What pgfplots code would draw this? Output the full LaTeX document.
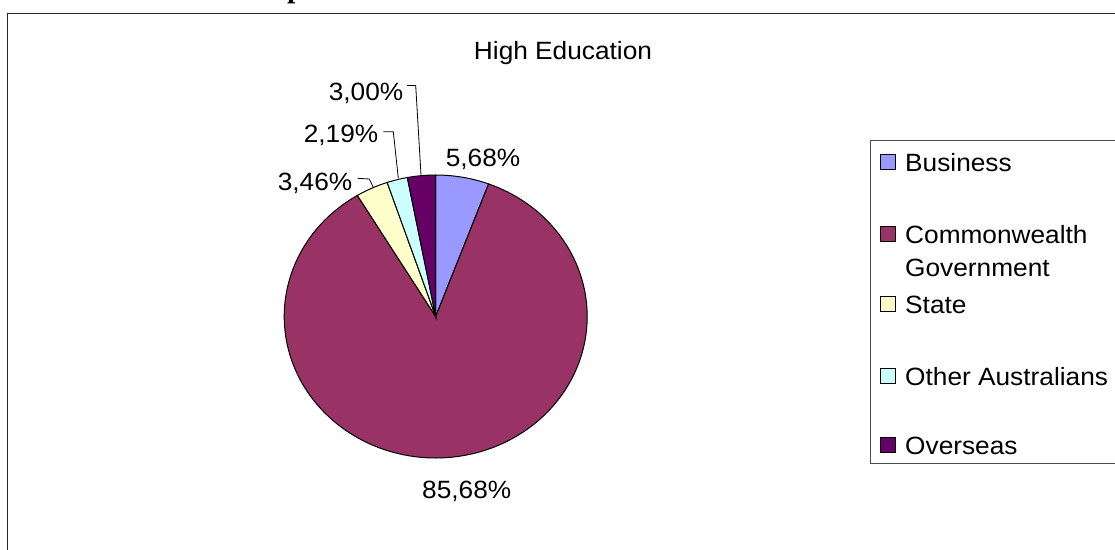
\documentclass[border=0pt]{standalone}
\usepackage{pgfplots}
\pgfplotsset{compat=1.18}
\usepackage{pgfplotstable}
\usepackage{graphicx}
\usepackage{fontspec}
\setmainfont{Liberation Sans}
\newfontfamily\headserif{Liberation Serif}

\definecolor{cBus}{HTML}{9999FF}
\definecolor{cCom}{HTML}{993366}
\definecolor{cSta}{HTML}{FFFFCC}
\definecolor{cOth}{HTML}{CCFFFF}
\definecolor{cOve}{HTML}{660066}
\newcommand\wt[1]{\scalebox{1.05}[1]{#1}}

\pgfplotstableread{
source value
Business 5.68
Commonwealth 85.68
State 3.46
Other 2.19
Overseas 3.00
}\piedata

\begin{document}
\begin{tikzpicture}
\pgfplotstablegetelem{0}{value}\of\piedata \pgfmathsetmacro\vA{\pgfplotsretval}
\pgfplotstablegetelem{1}{value}\of\piedata \pgfmathsetmacro\vB{\pgfplotsretval}
\pgfplotstablegetelem{2}{value}\of\piedata \pgfmathsetmacro\vC{\pgfplotsretval}
\pgfplotstablegetelem{3}{value}\of\piedata \pgfmathsetmacro\vD{\pgfplotsretval}
\pgfplotstablegetelem{4}{value}\of\piedata \pgfmathsetmacro\vE{\pgfplotsretval}
\pgfmathsetmacro\tot{\vA+\vB+\vC+\vD+\vE}
\pgfmathsetmacro\aA{\vA/\tot*360}
\pgfmathsetmacro\aB{(\vA+\vB)/\tot*360}
\pgfmathsetmacro\aC{(\vA+\vB+\vC)/\tot*360}
\pgfmathsetmacro\aD{(\vA+\vB+\vC+\vD)/\tot*360}
\def\cx{435.7}\def\cy{316.5}\def\rx{151.5}\def\ry{141.5}
\useasboundingbox (0,0) rectangle (1115pt,549pt);
\clip (0,0) rectangle (1115pt,549pt);
\begin{axis}[at={(0,0)}, anchor=south west, scale only axis,
  width=1115pt, height=549pt, xmin=0, xmax=1115, ymin=0, ymax=549,
  y dir=reverse, hide axis, clip=false]
% outer frame
\draw[line width=1.6pt, black!85] (axis cs:7.5,600) -- (axis cs:7.5,13.5) -- (axis cs:1200,13.5);
% partial heading above the frame
\node[anchor=base west, inner sep=0pt, font=\headserif\bfseries\fontsize{30}{34}\selectfont] at (axis cs:287,-2.5) {p};
% title
\node[anchor=base, inner sep=0pt, font=\fontsize{25}{30}\selectfont] at (axis cs:563,59) {\wt{High Education}};
% pie slices
\addplot[draw=black, line width=1pt, fill=cBus, domain=0:\aA, samples=15, variable=\t]
  ({\cx+\rx*sin(\t)}, {\cy-\ry*cos(\t)}) -- (axis cs:\cx,\cy) -- cycle;
\addplot[draw=black, line width=1pt, fill=cCom, domain=\aA:\aB, samples=150, variable=\t]
  ({\cx+\rx*sin(\t)}, {\cy-\ry*cos(\t)}) -- (axis cs:\cx,\cy) -- cycle;
\addplot[draw=black, line width=1pt, fill=cSta, domain=\aB:\aC, samples=10, variable=\t]
  ({\cx+\rx*sin(\t)}, {\cy-\ry*cos(\t)}) -- (axis cs:\cx,\cy) -- cycle;
\addplot[draw=black, line width=1pt, fill=cOth, domain=\aC:\aD, samples=10, variable=\t]
  ({\cx+\rx*sin(\t)}, {\cy-\ry*cos(\t)}) -- (axis cs:\cx,\cy) -- cycle;
\addplot[draw=black, line width=1pt, fill=cOve, domain=\aD:360, samples=10, variable=\t]
  ({\cx+\rx*sin(\t)}, {\cy-\ry*cos(\t)}) -- (axis cs:\cx,\cy) -- cycle;
% data labels
\begin{scope}[every node/.style={anchor=base, inner sep=0pt, font=\fontsize{25}{30}\selectfont}]
\node at (axis cs:483,166) {\wt{5,68\%}};
\node at (axis cs:366,100) {\wt{3,00\%}};
\node at (axis cs:341,142.5) {\wt{2,19\%}};
\node at (axis cs:315,190) {\wt{3,46\%}};
\node at (axis cs:466.7,498) {\wt{85,68\%}};
\end{scope}
% leader lines
\draw[line width=0.8pt] (axis cs:407,85.5) -- (axis cs:415.7,85.5) -- (axis cs:421,175);
\draw[line width=0.8pt] (axis cs:383.3,131.7) -- (axis cs:393.3,131.7) -- (axis cs:398.3,178.3);
\draw[line width=0.8pt] (axis cs:357.7,178.3) -- (axis cs:369.3,179) -- (axis cs:373.3,187.3);
% legend
\draw[line width=1pt, black!70] (axis cs:1200,140.5) -- (axis cs:870.5,140.5) -- (axis cs:870.5,463) -- (axis cs:1200,463);
\begin{scope}[every node/.style={anchor=base west, inner sep=0pt, font=\fontsize{25}{30}\selectfont}]
\draw[fill=cBus, line width=0.8pt] (axis cs:880.5,154.5) rectangle (axis cs:895.5,169.5);
\node at (axis cs:905,171) {\wt{Business}};
\draw[fill=cCom, line width=0.8pt] (axis cs:880.5,226.5) rectangle (axis cs:895.5,241.5);
\node at (axis cs:905,243) {\wt{Commonwealth}};
\node at (axis cs:905,276) {\wt{Government}};
\draw[fill=cSta, line width=0.8pt] (axis cs:880.5,296.5) rectangle (axis cs:895.5,311.5);
\node at (axis cs:905,313) {\wt{State}};
\draw[fill=cOth, line width=0.8pt] (axis cs:880.5,368) rectangle (axis cs:895.5,383);
\node at (axis cs:905,385) {\wt{Other Australians}};
\draw[fill=cOve, line width=0.8pt] (axis cs:880.5,437.5) rectangle (axis cs:895.5,452.5);
\node at (axis cs:905,454) {\wt{Overseas}};
\end{scope}
\end{axis}
\end{tikzpicture}
\end{document}
